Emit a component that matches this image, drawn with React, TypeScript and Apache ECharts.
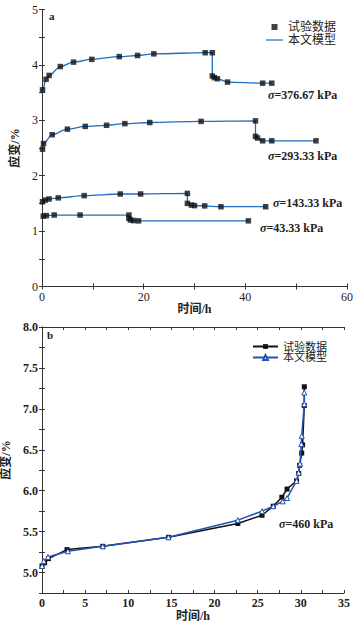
import React, { useEffect, useRef } from 'react';
import * as echarts from 'echarts';

// ---- Panel a: experimental data (time h, strain %) ----
const tA376 = [0.1, 0.8, 1.4, 3.6, 6.2, 9.8, 15.2, 18.8, 22.0, 32.1, 33.5, 33.5, 33.9, 34.5, 36.5, 43.4, 45.2];
const eA376 = [3.55, 3.74, 3.81, 3.97, 4.05, 4.1, 4.15, 4.17, 4.2, 4.22, 4.22, 3.8, 3.77, 3.75, 3.69, 3.67, 3.67];
const tA293 = [0.1, 0.3, 2.0, 5.0, 8.5, 12.7, 16.3, 21.2, 31.3, 42.0, 42.0, 42.4, 43.4, 45.2, 53.9];
const eA293 = [2.48, 2.58, 2.74, 2.84, 2.89, 2.91, 2.94, 2.96, 2.98, 2.99, 2.71, 2.68, 2.63, 2.63, 2.63];
const tA143 = [0.1, 0.65, 1.4, 3.2, 8.3, 15.4, 19.4, 28.6, 28.6, 29.4, 30.0, 32.0, 35.2, 44.0];
const eA143 = [1.53, 1.56, 1.58, 1.6, 1.64, 1.67, 1.67, 1.68, 1.5, 1.47, 1.46, 1.455, 1.44, 1.44];
const tA43 = [0.25, 0.85, 2.4, 7.5, 17.1, 17.1, 17.4, 18.0, 19.0, 40.6];
const eA43 = [1.27, 1.28, 1.29, 1.29, 1.29, 1.23, 1.2, 1.19, 1.185, 1.185];

// model curves start at t = 0
const mStartA = [3.48, 2.42, 1.51, 1.26];

// ---- Panel b ----
const tBExp = [0, 0.31, 0.75, 2.9, 7.04, 14.66, 22.7, 25.5, 26.8, 27.8, 28.4, 29.5, 29.75, 29.86, 30.1, 30.2, 30.4, 30.4];
const eBExp = [5.08, 5.12, 5.17, 5.28, 5.32, 5.43, 5.6, 5.7, 5.81, 5.92, 6.02, 6.12, 6.21, 6.31, 6.46, 6.56, 7.04, 7.27];
const tBMod = [0, 0.2, 0.7, 3.0, 7.04, 14.66, 22.7, 25.5, 26.8, 27.9, 28.4, 29.5, 29.75, 29.9, 30.05, 30.1, 30.4, 30.4];
const eBMod = [5.08, 5.14, 5.19, 5.26, 5.32, 5.43, 5.64, 5.75, 5.81, 5.87, 5.91, 6.12, 6.22, 6.33, 6.57, 6.67, 7.06, 7.2];

const labelsA = ['σ=376.67 kPa', 'σ=293.33 kPa', 'σ=143.33 kPa', 'σ=43.33 kPa'];
const labelB = 'σ=460 kPa';
const xName = '时间/h';
const yName = '应变/%';
const legendNames = ['试验数据', '本文模型'];

const zip = (t: number[], e: number[]) => t.map((v, i) => [v, e[i]]);

const SERIF = '"Liberation Serif", "Noto Sans CJK SC", serif';
const BLUE_A = '#1f6fc0';
const BLUE_B = '#2452b0';

export default function App() {
  const ref = useRef<HTMLDivElement>(null);
  useEffect(() => {
    document.body.style.margin = '0';
    const chart = echarts.init(ref.current!, null, { renderer: 'svg' });
    const axisLine = { show: true, lineStyle: { color: '#333', width: 1 } };
    const tick = (interval: any) => ({ show: true, inside: true, length: 3, lineStyle: { color: '#333' }, interval });
    const lbl = (fmt: (v: number) => string, bold: boolean) => ({
      show: true, fontFamily: SERIF, fontSize: 12, color: '#222', fontWeight: bold ? 'bold' : 'normal', margin: 4, formatter: fmt,
    });
    const hidden = { show: false };
    const nameStyle = { fontFamily: SERIF, fontSize: 12, color: '#222', fontWeight: 'bold' };

    const curvesT = [tA376, tA293, tA143, tA43];
    const curvesE = [eA376, eA293, eA143, eA43];
    const series: any[] = [];
    curvesT.forEach((t, i) => {
      series.push({
        type: 'line', name: legendNames[1], xAxisIndex: 0, yAxisIndex: 0,
        data: [[0, mStartA[i]], ...zip(t, curvesE[i])],
        symbol: 'none', smooth: 0.35, smoothMonotone: 'x',
        lineStyle: { color: BLUE_A, width: 1.3 }, itemStyle: { color: BLUE_A }, z: 2,
      });
    });
    curvesT.forEach((t, i) => {
      series.push({
        type: 'scatter', name: legendNames[0], xAxisIndex: 0, yAxisIndex: 0,
        data: zip(t, curvesE[i]), symbol: 'rect', symbolSize: 5.5,
        itemStyle: { color: '#111' }, z: 3,
      });
    });
    series.push({
      type: 'line', name: 'b' + legendNames[0], xAxisIndex: 2, yAxisIndex: 2,
      data: zip(tBExp, eBExp), symbol: 'rect', symbolSize: 5, showAllSymbol: true,
      lineStyle: { color: '#111', width: 1.5 }, itemStyle: { color: '#111' }, z: 2,
    });
    series.push({
      type: 'line', name: 'b' + legendNames[1], xAxisIndex: 2, yAxisIndex: 2,
      data: zip(tBMod, eBMod), symbol: 'triangle', symbolSize: 5, showAllSymbol: true,
      lineStyle: { color: BLUE_B, width: 1.5 }, itemStyle: { color: '#fff', borderColor: BLUE_B, borderWidth: 1 }, z: 3,
    });

    const isMult = (v: number, m: number) => Math.abs(v / m - Math.round(v / m)) < 1e-6;

    chart.setOption({
      animation: false,
      backgroundColor: '#fff',
      grid: [
        { left: 42, top: 9.5, width: 305, height: 277, containLabel: false, outerBoundsMode: 'none' },
        { left: 42, top: 327, width: 302, height: 266, containLabel: false, outerBoundsMode: 'none' },
      ],
      xAxis: [
        { type: 'value', gridIndex: 0, min: 0, max: 60, interval: 10, position: 'bottom', axisLine, axisTick: tick(0),
          axisLabel: lbl((v) => (isMult(v, 20) ? String(v) : ''), false), splitLine: hidden,
          name: xName, nameLocation: 'middle', nameGap: 15, nameTextStyle: { ...nameStyle, verticalAlign: 'top' } },
        { type: 'value', gridIndex: 0, min: 0, max: 60, interval: 10, position: 'top', axisLine, axisTick: tick(0), axisLabel: hidden, splitLine: hidden },
        { type: 'value', gridIndex: 1, min: 0, max: 35, interval: 2.5, position: 'bottom', axisLine, axisTick: tick(0),
          axisLabel: lbl((v) => (isMult(v, 5) ? String(v) : ''), true), splitLine: hidden,
          name: xName, nameLocation: 'middle', nameGap: 14, nameTextStyle: { ...nameStyle, verticalAlign: 'top' } },
        { type: 'value', gridIndex: 1, min: 0, max: 35, interval: 2.5, position: 'top', axisLine, axisTick: tick(0), axisLabel: hidden, splitLine: hidden },
      ],
      yAxis: [
        { type: 'value', gridIndex: 0, min: 0, max: 5, interval: 0.5, position: 'left', axisLine, axisTick: tick(0),
          axisLabel: lbl((v) => (isMult(v, 1) ? String(v) : ''), false), splitLine: hidden,
          name: yName, nameLocation: 'middle', nameGap: 21, nameTextStyle: nameStyle },
        { type: 'value', gridIndex: 0, min: 0, max: 5, interval: 0.5, position: 'right', axisLine, axisTick: tick(0), axisLabel: hidden, splitLine: hidden },
        { type: 'value', gridIndex: 1, min: 4.75, max: 8, interval: 0.25, position: 'left', axisLine, axisTick: tick(0),
          axisLabel: lbl((v) => (isMult(v, 0.5) ? v.toFixed(1) : ''), true), splitLine: hidden,
          name: yName, nameLocation: 'middle', nameGap: 24, nameTextStyle: nameStyle },
        { type: 'value', gridIndex: 1, min: 4.75, max: 8, interval: 0.25, position: 'right', axisLine, axisTick: tick(0), axisLabel: hidden, splitLine: hidden },
      ],
      legend: [
        {
          data: [
            { name: legendNames[0], icon: 'path://M0,0h10v10h-10z', itemStyle: { color: '#111' } },
            { name: legendNames[1], icon: 'path://M0,0h170v12h-170z', itemStyle: { color: BLUE_A } },
          ],
          orient: 'vertical', left: 261, top: 16, itemWidth: 17, itemHeight: 6, itemGap: 1,
          textStyle: { fontFamily: SERIF, fontSize: 12, color: '#222' },
        },
        { data: legendNames.map((n) => 'b' + n), formatter: (n: string) => n.slice(1), orient: 'vertical', left: 247, top: 336,
          itemWidth: 25, itemHeight: 6, itemGap: 0, textStyle: { fontFamily: SERIF, fontSize: 11, color: '#222' } },
      ],
      graphic: [
        { type: 'text', x: 49, y: 16, style: { text: 'a', font: `bold 11px ${SERIF}`, fill: '#222', verticalAlign: 'middle' } },
        { type: 'text', x: 47, y: 335, style: { text: 'b', font: `bold 11px ${SERIF}`, fill: '#222', verticalAlign: 'middle' } },
        ...[[268, 95], [268, 156], [273, 202.5], [260, 228]].map(([x, y], i) => ({
          type: 'text', x, y,
          style: {
            text: '{i|σ}' + labelsA[i].slice(1), font: `bold 12px ${SERIF}`, fill: '#222', verticalAlign: 'middle',
            rich: { i: { fontStyle: 'italic', fontWeight: 'bold', fontFamily: SERIF, fontSize: 12 } },
          },
        })),
        {
          type: 'text', x: 279, y: 524,
          style: {
            text: '{i|σ}' + labelB.slice(1), font: `bold 12px ${SERIF}`, fill: '#222', verticalAlign: 'middle',
            rich: { i: { fontStyle: 'italic', fontWeight: 'bold', fontFamily: SERIF, fontSize: 12 } },
          },
        },
      ],
      series,
    });
    return () => chart.dispose();
  }, []);
  return <div ref={ref} style={{ width: 363, height: 623 }} />;
}
